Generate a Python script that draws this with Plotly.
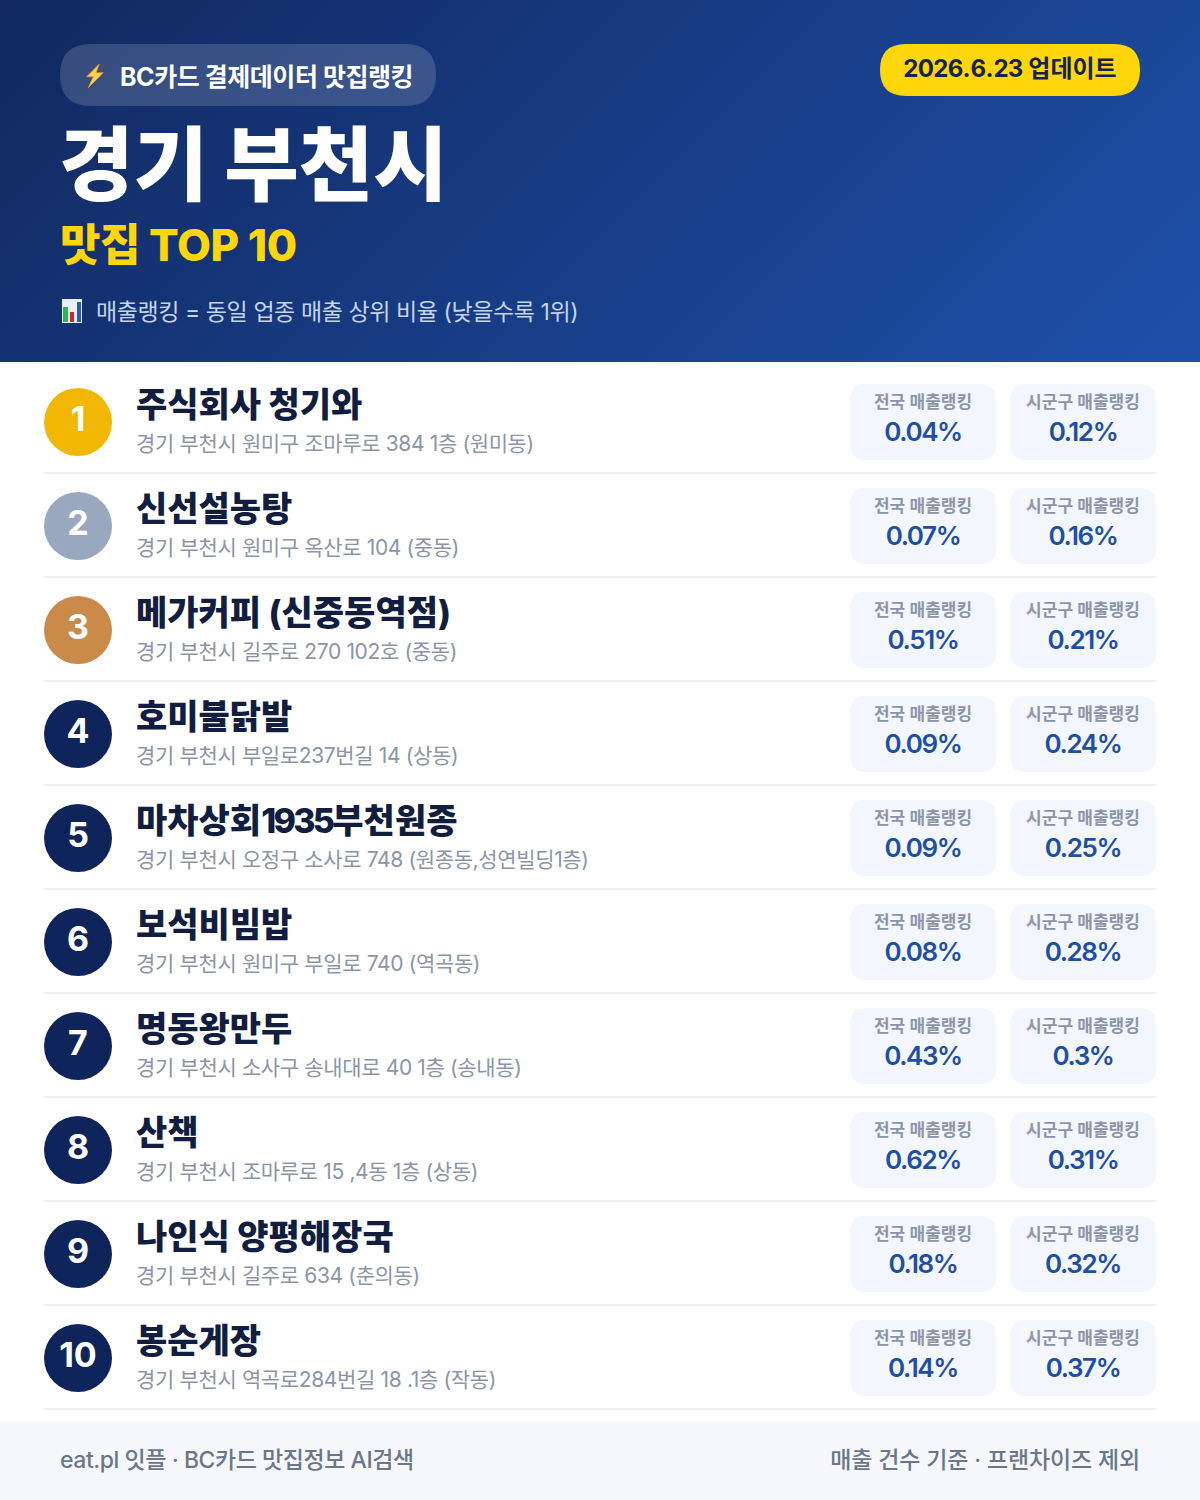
import base64
import re
import plotly.graph_objects as go

FONT = "Inter, Noto Sans CJK KR"

names = ["주식회사 청기와", "신선설농탕", "메가커피 (신중동역점)", "호미불닭발", "마차상회1935부천원종",
         "보석비빔밥", "명동왕만두", "산책", "나인식 양평해장국", "봉순게장"]
addresses = ["경기 부천시 원미구 조마루로 384 1층 (원미동)", "경기 부천시 원미구 옥산로 104 (중동)",
             "경기 부천시 길주로 270 102호 (중동)", "경기 부천시 부일로237번길 14 (상동)",
             "경기 부천시 오정구 소사로 748 (원종동,성연빌딩1층)", "경기 부천시 원미구 부일로 740 (역곡동)",
             "경기 부천시 소사구 송내대로 40 1층 (송내동)", "경기 부천시 조마루로 15 ,4동 1층 (상동)",
             "경기 부천시 길주로 634 (춘의동)", "경기 부천시 역곡로284번길 18 .1층 (작동)"]
national = [0.04, 0.07, 0.51, 0.09, 0.09, 0.08, 0.43, 0.62, 0.18, 0.14]
district = [0.12, 0.16, 0.21, 0.24, 0.25, 0.28, 0.3, 0.31, 0.32, 0.37]
ranks = list(range(1, 11))
rank_colors = ["#f2b705", "#9aa8bf", "#c98a4a"] + ["#10245c"] * 7


def tight(text, spacing):
    # plotly has no letter spacing option, a span style gets through to the svg
    return f'<span style="letter-spacing:{spacing}px">{text}</span>'


def tight_digits(text, spacing):
    return re.sub(r"[0-9]+", lambda m: tight(m.group(0), spacing), text)


def round_rect(x0, y0, x1, y1, r, fill, layer="below"):
    path = (f"M{x0+r},{y0} L{x1-r},{y0} Q{x1},{y0} {x1},{y0+r} L{x1},{y1-r} Q{x1},{y1} {x1-r},{y1} "
            f"L{x0+r},{y1} Q{x0},{y1} {x0},{y1-r} L{x0},{y0+r} Q{x0},{y0} {x0+r},{y0} Z")
    return dict(type="path", path=path, fillcolor=fill, line_width=0, layer=layer)


def text_trace(xs, ys, texts, size, color, weight=400, pos="middle right"):
    return go.Scatter(x=xs, y=ys, text=texts, mode="text", textposition=pos, cliponaxis=False,
                      textfont=dict(family=FONT, size=size, color=color, weight=weight), hoverinfo="skip")


fig = go.Figure()

# header gradient, as an svg image so the pills can sit on top of it
svg = ('<svg xmlns="http://www.w3.org/2000/svg" width="1200" height="362">'
       '<defs><linearGradient id="g" gradientUnits="userSpaceOnUse" x1="210" y1="-210" x2="990" y2="572">'
       '<stop offset="0" stop-color="#11285f"/><stop offset="1" stop-color="#1e50aa"/></linearGradient></defs>'
       '<rect width="1200" height="362" fill="url(#g)"/></svg>')
header_src = "data:image/svg+xml;base64," + base64.b64encode(svg.encode()).decode()

shapes = [
    round_rect(60, 44, 436, 106, 31, "rgba(255,255,255,0.16)", "between"),
    round_rect(880, 44, 1140, 96, 26, "#ffd60a", "between"),
    dict(type="rect", x0=0, x1=1200, y0=1422, y1=1500, fillcolor="#f5f7fb", line_width=0, layer="below"),
    # lightning icon
    dict(type="path", path="M99.3,64 L86.7,76.7 L93.3,76.7 L88.3,87.7 L103.3,72.7 L96,72.7 Z", fillcolor="#fbd24e",
         line=dict(color="#e8962e", width=0.8)),
    # chart icon
    dict(type="rect", x0=62, x1=82, y0=299, y1=323, fillcolor="#eaf0f6", line_width=0),
    dict(type="rect", x0=63, x1=68, y0=307, y1=322, fillcolor="#2eb84f", line_width=0),
    dict(type="rect", x0=70, x1=74, y0=312, y1=322, fillcolor="#d8222a", line_width=0),
    dict(type="rect", x0=77, x1=81, y0=302, y1=322, fillcolor="#2160b8", line_width=0),
]
row_y = [422 + 104 * i for i in range(10)]
for y in row_y:
    shapes.append(round_rect(850, y - 38, 996, y + 38, 16, "#f3f6fc"))
    shapes.append(round_rect(1010, y - 38, 1156, y + 38, 16, "#f3f6fc"))
    shapes.append(dict(type="line", x0=44, x1=1156, y0=y + 51, y1=y + 51, line=dict(color="#eef0f3", width=2), layer="below"))

# header text
fig.add_trace(text_trace([120], [80], [tight("BC카드 결제데이터 맛집랭킹", -0.45)], 25, "#ffffff", 700))
fig.add_trace(text_trace([1010], [71], [tight_digits("2026.6.23", -0.7) + " 업데이트"], 24, "#14244f", 700, "middle center"))
fig.add_trace(text_trace([59], [174], ["경기 부천시"], 81, "#ffffff", 900))
fig.add_trace(text_trace([60], [250], [tight("맛집 TOP 10", -0.5)], 44, "#ffd60a", 800))
fig.add_trace(text_trace([96], [314], [tight("매출랭킹 = 동일 업종 매출 상위 비율 (낮을수록 1위)", -0.42)], 23, "#c6d4ee", 400))

# rows
fig.add_trace(go.Scatter(x=[78] * 10, y=row_y, mode="markers+text", text=ranks, textposition="middle center",
                         marker=dict(size=68, color=rank_colors, line_width=0), cliponaxis=False, hoverinfo="skip",
                         textfont=dict(family=FONT, size=34, color="#ffffff", weight=700)))
fig.add_trace(text_trace([136] * 10, [y - 14 for y in row_y], [tight_digits(n, -2.7) for n in names], 34, "#121d3f", 800))
fig.add_trace(text_trace([136] * 10, [y + 24 for y in row_y], [tight(a, -0.36) for a in addresses], 21, "#8b95a7", 400))
fig.add_trace(text_trace([923] * 10, [y - 18 for y in row_y], ["전국 매출랭킹"] * 10, 17, "#8b95a7", 600, "middle center"))
fig.add_trace(text_trace([1083] * 10, [y - 18 for y in row_y], ["시군구 매출랭킹"] * 10, 17, "#8b95a7", 600, "middle center"))
fig.add_trace(text_trace([923] * 10, [y + 12 for y in row_y], [tight(f"{v}%", -1.4) for v in national], 26, "#1e4fa8", 600, "middle center"))
fig.add_trace(text_trace([1083] * 10, [y + 12 for y in row_y], [tight(f"{v}%", -1.4) for v in district], 26, "#1e4fa8", 600, "middle center"))

# footer
fig.add_trace(text_trace([60], [1462], [tight("eat.pl 잇플 · BC카드 맛집정보 AI검색", -0.45)], 23, "#6b7688", 500))
fig.add_trace(text_trace([1140], [1462], [tight("매출 건수 기준 · 프랜차이즈 제외", -0.15)], 23, "#6b7688", 500, "middle left"))

fig.update_layout(width=1200, height=1500, margin=dict(l=0, r=0, t=0, b=0), showlegend=False,
                  paper_bgcolor="#ffffff", plot_bgcolor="rgba(0,0,0,0)", shapes=shapes,
                  images=[dict(source=header_src, xref="paper", yref="paper", x=0, y=1, sizex=1, sizey=362 / 1500,
                               xanchor="left", yanchor="top", sizing="stretch", layer="below")],
                  xaxis=dict(range=[0, 1200], visible=False, fixedrange=True),
                  yaxis=dict(range=[1500, 0], visible=False, fixedrange=True))
fig.write_html("out.html", config={"displayModeBar": False},
               post_script="document.body.style.margin='0';")
